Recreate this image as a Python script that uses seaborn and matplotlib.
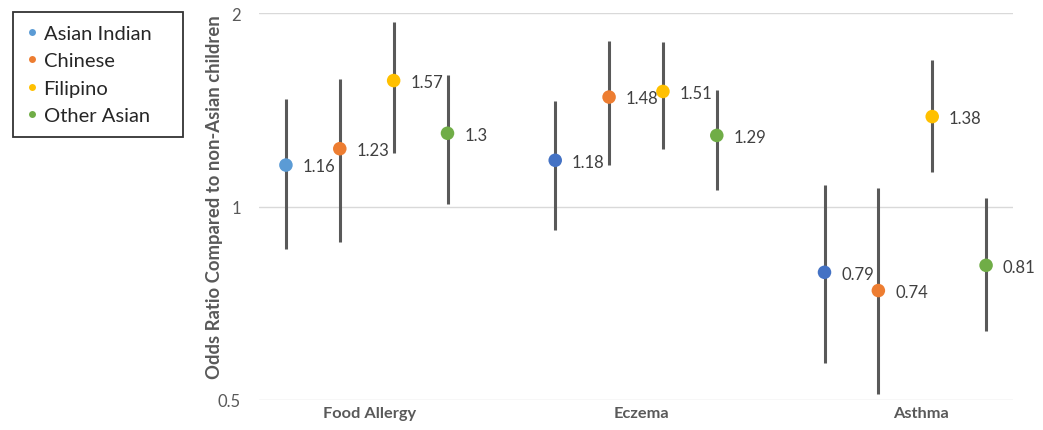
import seaborn as sns
import matplotlib.pyplot as plt
from matplotlib.lines import Line2D
import numpy as np
import pandas as pd

# data
outcomes = ["Food Allergy", "Eczema", "Asthma"]
groups = ["Asian Indian", "Chinese", "Filipino", "Other Asian"]

odds_ratio = [
    [1.16, 1.23, 1.57, 1.30],   # Food Allergy
    [1.18, 1.48, 1.51, 1.29],   # Eczema
    [0.79, 0.74, 1.38, 0.81],   # Asthma
]
ci_low = [
    [0.86, 0.88, 1.21, 1.01],
    [0.92, 1.16, 1.23, 1.06],
    [0.57, 0.51, 1.13, 0.64],
]
ci_high = [
    [1.47, 1.58, 1.94, 1.60],
    [1.46, 1.81, 1.80, 1.52],
    [1.08, 1.07, 1.69, 1.03],
]

group_colors = {"Asian Indian": "#5B9BD5", "Chinese": "#ED7D31",
                "Filipino": "#FFC000", "Other Asian": "#70AD47"}
# the Asian Indian dots for eczema and asthma are a darker blue
dark_blue = "#4472C4"

rows = []
for i, outc in enumerate(outcomes):
    for j, g in enumerate(groups):
        col = group_colors[g]
        if g == "Asian Indian" and i > 0:
            col = dark_blue
        rows.append({"outcome": outc, "group": g, "pos": i * 5 + j + 1,
                     "OR": odds_ratio[i][j], "lo": ci_low[i][j],
                     "hi": ci_high[i][j], "color": col})
df = pd.DataFrame(rows)

sns.set_theme(style="white")
plt.rcParams['font.family'] = ['Lato', 'DejaVu Sans']

fig = plt.figure(figsize=(10.43, 4.31), dpi=100)
ax = fig.add_axes([259 / 1043, 1 - 401 / 431, 754 / 1043, 387 / 431])

ax.vlines(df["pos"], df["lo"], df["hi"], color="#595959", linewidth=2.2, zorder=2)
sns.scatterplot(data=df, x="pos", y="OR", hue="color",
                palette={c: c for c in df["color"].unique()},
                s=95, edgecolor="none", legend=False, zorder=3, ax=ax)

for _, r in df.iterrows():
    ax.annotate(f"{r['OR']:g}", (r["pos"], r["OR"]), xytext=(12, -1),
                textcoords="offset points", va="center", ha="left",
                fontsize=12, color="#404040")

ax.set_yscale("log")
ax.set_ylim(0.5, 2)
ax.set_yticks([0.5, 1, 2])
ax.set_yticklabels(["0.5", "1", "2"])
ax.minorticks_off()
ax.set_xlim(0.5, 14.5)
ax.set_xticks([2.55, 7.6, 12.8])
ax.set_xticklabels(outcomes, fontweight="bold")
ax.tick_params(axis="x", colors="#595959", labelsize=11.8, length=0, pad=4)
ax.tick_params(axis="y", colors="#595959", labelsize=12, length=0, pad=13)
ax.yaxis.grid(True, color="#D9D9D9", linewidth=1)
ax.xaxis.grid(False)
for s in ax.spines.values():
    s.set_visible(False)

ax.set_xlabel("")
ax.set_ylabel("Odds Ratio Compared to non-Asian children", fontweight="bold",
              color="#595959", fontsize=13.3)
ax.yaxis.set_label_coords(-0.048, 0.527)

handles = [Line2D([], [], marker="o", linestyle="none", markersize=5,
                  markerfacecolor=group_colors[g], markeredgecolor="none")
           for g in groups]
leg = fig.legend(handles, groups, loc="upper left", mode="expand",
                 bbox_to_anchor=(13 / 1043, 1 - 13 / 431, 170 / 1043, 0),
                 frameon=True, fancybox=False, fontsize=14.5,
                 handlelength=0.6, handletextpad=0.3, labelspacing=0.52,
                 borderpad=0.62, borderaxespad=0)
leg.get_frame().set_edgecolor("black")
leg.get_frame().set_linewidth(1.3)

fig.savefig("out.png", dpi=100)
